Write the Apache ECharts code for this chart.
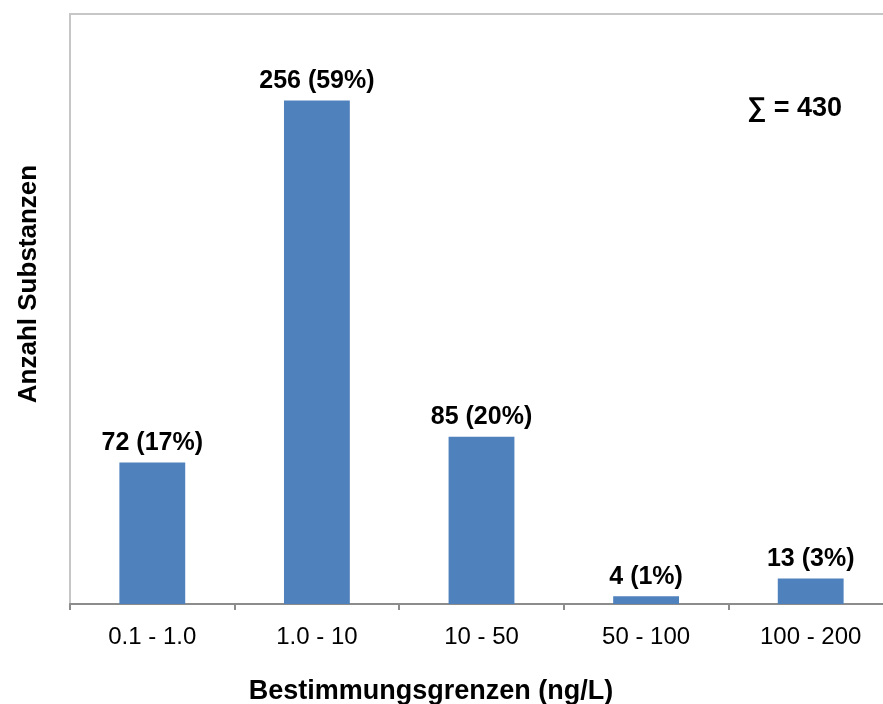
<!DOCTYPE html>
<html>
<head>
<meta charset="utf-8">
<script src="https://cdn.jsdelivr.net/npm/echarts@6/dist/echarts.min.js"></script>
<style>
  html, body { margin: 0; padding: 0; background: #fff; }
  #chart { width: 883px; height: 704px; }
</style>
</head>
<body>
<div id="chart"></div>
<script>
// Detection limit ranges and number of substances per range
const categories = ['0.1 - 1.0', '1.0 - 10', '10 - 50', '50 - 100', '100 - 200'];
const counts = [72, 256, 85, 4, 13];
const percents = [17, 59, 20, 1, 3];
const totalLabel = '\u2211 = 430';

const FONT = 'Liberation Sans, Arial, sans-serif';
const chart = echarts.init(document.getElementById('chart'));

chart.setOption({
  animation: false,
  backgroundColor: '#ffffff',
  grid: {
    left: 70, top: 14, width: 823, height: 590,
    outerBoundsMode: 'none',
    show: true, borderColor: '#c6c6c6', borderWidth: 2, backgroundColor: 'transparent'
  },
  xAxis: {
    type: 'category',
    data: categories,
    axisLine: { lineStyle: { color: '#8c8c8c', width: 2 } },
    axisTick: { show: true, length: 6, lineStyle: { color: '#8c8c8c', width: 2 } },
    axisLabel: {
      color: '#000', fontFamily: FONT,
      fontSize: 24, margin: 21
    }
  },
  yAxis: {
    type: 'value', min: 0, max: 300,
    show: false,
    splitLine: { show: false }
  },
  series: [{
    type: 'bar',
    data: counts,
    barWidth: '40%',
    itemStyle: { color: '#4f81bd' },
    label: {
      show: true, position: 'top', distance: 7,
      color: '#000', fontWeight: 'bold', fontSize: 25,
      fontFamily: FONT,
      formatter: p => counts[p.dataIndex] + ' (' + percents[p.dataIndex] + '%)'
    }
  }],
  graphic: [
    {
      type: 'text', left: 747, top: 95,
      style: {
        text: totalLabel, fill: '#000', fontWeight: 'bold', fontSize: 27,
        fontFamily: FONT
      }
    },
    {
      type: 'text', x: 29, y: 284, rotation: Math.PI / 2,
      style: {
        text: 'Anzahl Substanzen', fill: '#000', fontWeight: 'bold', fontSize: 26,
        fontFamily: FONT,
        align: 'center', verticalAlign: 'middle'
      }
    },
    {
      type: 'text', x: 431, y: 692,
      style: {
        text: 'Bestimmungsgrenzen (ng/L)', fill: '#000', fontWeight: 'bold', fontSize: 27,
        fontFamily: FONT,
        align: 'center', verticalAlign: 'middle'
      }
    }
  ]
});
</script>
</body>
</html>
